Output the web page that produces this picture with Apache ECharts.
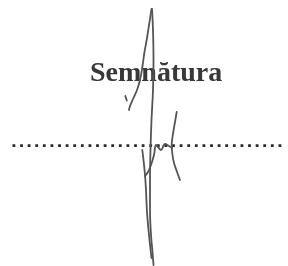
<!DOCTYPE html>
<html><head><meta charset="utf-8">
<script src="https://cdn.jsdelivr.net/npm/echarts@6/dist/echarts.min.js"></script>
<style>html,body{margin:0;padding:0;background:#fff}#c{width:288px;height:266px}</style>
</head><body><div id="c"></div>
<script>
const labelText = 'Semnătura';
const dottedLine = [[12.5,145.7],[284,145.7]];
const strokeA = [[151.5,9],[149.5,22],[147,38],[144.5,52],[142.5,66],[140,80],[137,90],[133,99],[130,106],[129,110]];
const strokeTick = [[125.3,96],[126.8,100.5]];
const strokeB = [[152,9],[153,30],[153.5,60],[153,90],[151.5,120],[150.5,150],[150,180],[150,210],[151,235],[152.5,252],[153.5,265]];
const strokeC = [[142.3,150],[143.5,160],[145,175],[146,190],[147,212],[149,235],[151.5,258]];
const strokeD = [[145,176],[148,172],[151,165],[154,155],[156,145],[158,147],[161,150],[165,144],[169,146],[172,148]];
const strokeE = [[176.7,112],[175,122],[173.3,132],[171.7,145],[172.5,155],[174,163],[176.7,171],[180,180]];

const chart = echarts.init(document.getElementById('c'), null, {renderer:'canvas'});
const sig = (d) => ({type:'line', data:d, symbol:'none', smooth:0.4, silent:true,
  lineStyle:{color:'#555', width:1.8, cap:'round', join:'round'}, z:3});
chart.setOption({
  animation:false,
  backgroundColor:'#fff',
  grid:{left:0,right:0,top:0,bottom:0},
  xAxis:{type:'value', min:0, max:288, show:false},
  yAxis:{type:'value', min:0, max:266, inverse:true, show:false},
  graphic:[{type:'text', left:90, top:60, z:1,
    style:{text:labelText, x:0, y:0, fill:'#383838',
      font:'bold 28px "Liberation Serif", "Times New Roman", serif'}}],
  series:[
    {type:'line', data:dottedLine, symbol:'none', silent:true, z:2,
     lineStyle:{color:'#2a2a2a', width:2.8, type:[2.8,4.8], cap:'butt'}},
    sig(strokeA), sig(strokeTick), sig(strokeB), sig(strokeC), sig(strokeD), sig(strokeE)
  ]
});
</script></body></html>
